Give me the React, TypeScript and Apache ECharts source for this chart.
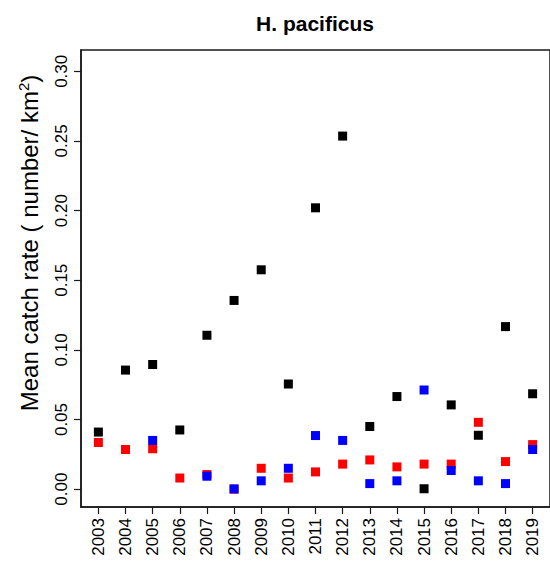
import React, { useEffect, useRef } from "react";
import * as echarts from "echarts";

const years = [2003, 2004, 2005, 2006, 2007, 2008, 2009, 2010, 2011, 2012, 2013, 2014, 2015, 2016, 2017, 2018, 2019];
const blackValues = [0.041, 0.0855, 0.0895, 0.0425, 0.1105, 0.1355, 0.1575, 0.0755, 0.202, 0.2535, 0.045, 0.0665, 0.0003, 0.0605, 0.0387, 0.1167, 0.0685];
const redValues = [0.0335, 0.0285, 0.029, 0.008, 0.0105, 0.0, 0.015, 0.008, 0.0124, 0.018, 0.021, 0.016, 0.018, 0.018, 0.048, 0.0198, 0.032];
const blueValues = [null, null, 0.035, null, 0.0093, 0.0002, 0.006, 0.015, 0.0385, 0.035, 0.004, 0.006, 0.0712, 0.0134, 0.006, 0.004, 0.0285];
const yTicks = [0, 0.05, 0.1, 0.15, 0.2, 0.25, 0.3];

const titleText = "H. pacificus";
const FONT = "'Liberation Sans', Arial, Helvetica, sans-serif";

function toPoints(vals: (number | null)[]) {
  const out: number[][] = [];
  vals.forEach((v, i) => {
    if (v !== null && v !== undefined) out.push([years[i], v]);
  });
  return out;
}

export default function App() {
  const ref = useRef<HTMLDivElement>(null);
  useEffect(() => {
    document.body.style.margin = "0";
    if (!ref.current) return;
    const chart = echarts.init(ref.current, null, { renderer: "svg" });
    const mk = (name: string, color: string, vals: (number | null)[]) => ({
      name,
      type: "scatter",
      symbol: "rect",
      symbolSize: 9,
      itemStyle: { color, opacity: 1 },
      data: toPoints(vals),
      z: 2,
    });
    chart.setOption({
      animation: false,
      backgroundColor: "#ffffff",
      textStyle: { fontFamily: FONT },
      grid: {
        left: 81,
        top: 50,
        right: -3,
        bottom: 62,
        show: true,
        borderColor: "#1a1a1a",
        borderWidth: 1.5,
        backgroundColor: "transparent",
      },
      xAxis: {
        type: "value",
        min: 2002.36,
        max: 2019.64,
        axisLine: { show: true, onZero: false, lineStyle: { color: "#1a1a1a", width: 1.5 } },
        splitLine: { show: false },
        axisTick: {
          show: true,
          inside: false,
          customValues: years,
          length: 7,
          lineStyle: { color: "#1a1a1a", width: 1.2 },
        },
        axisLabel: {
          show: true,
          customValues: years,
          rotate: 90,
          margin: 11,
          fontSize: 17,
          color: "#000",
          fontFamily: FONT,
          formatter: (v: number) => String(Math.round(v)),
        },
      },
      yAxis: {
        type: "value",
        min: -0.0128,
        max: 0.3153,
        axisLine: { show: true, onZero: false, lineStyle: { color: "#1a1a1a", width: 1.5 } },
        splitLine: { show: false },
        axisTick: {
          show: true,
          inside: false,
          customValues: yTicks,
          length: 7,
          lineStyle: { color: "#1a1a1a", width: 1.2 },
        },
        axisLabel: {
          show: true,
          customValues: yTicks,
          rotate: 90,
          margin: 11,
          fontSize: 17,
          color: "#000",
          fontFamily: FONT,
          formatter: (v: number) => v.toFixed(2),
        },
      },
      graphic: [
        {
          type: "text",
          x: 315,
          y: 23,
          style: {
            text: titleText,
            fontSize: 21,
            fontWeight: "bold",
            fontFamily: FONT,
            fill: "#000",
            textAlign: "center",
            textVerticalAlign: "middle",
          },
        },
        {
          type: "text",
          x: 29,
          y: 243,
          rotation: Math.PI / 2,
          style: {
            text: "Mean catch rate ( number/ km{sup|2})",
            rich: {
              sup: { fontSize: 15, verticalAlign: "top", padding: [0, 0, 12, 0], fontFamily: FONT, fill: "#000" },
            },
            fontSize: 24,
            fontFamily: FONT,
            fill: "#000",
            textAlign: "center",
            textVerticalAlign: "middle",
          },
        },
      ],
      series: [
        mk("Series A", "#000000", blackValues),
        mk("Series B", "#ff0000", redValues),
        mk("Series C", "#0000ff", blueValues),
      ],
    });
    return () => chart.dispose();
  }, []);
  return <div ref={ref} style={{ width: 550, height: 569 }} />;
}
